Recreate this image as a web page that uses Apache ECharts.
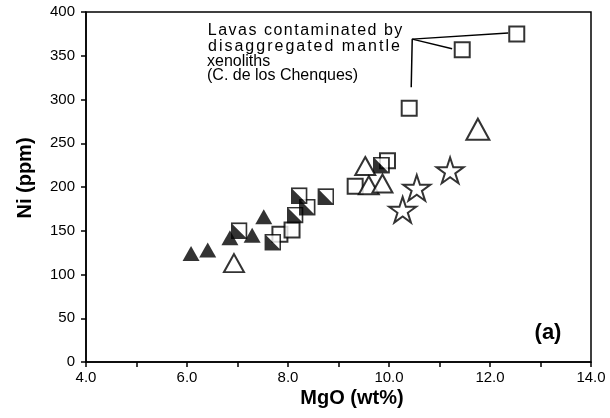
<!DOCTYPE html>
<html><head><meta charset="utf-8">
<script src="https://cdn.jsdelivr.net/npm/echarts@6/dist/echarts.min.js"></script>
<style>html,body{margin:0;padding:0;background:#fff}#c{width:610px;height:418px}</style>
</head><body><div id="c"></div><script>
// ---- data (MgO wt%, Ni ppm) ----
const filledTriangles = [[6.08,124],[6.41,128],[6.85,142],[7.29,145],[7.52,166]];
const openTriangles = [[6.93,113],[9.53,224],[9.60,202],[9.87,204]];
const bigOpenTriangles = [[11.76,266]];
const halfSquares = [[7.03,150],[7.70,137],[8.14,168],[8.38,177],[8.22,190],[8.75,189],[9.85,225]];
const openSquares = [[7.84,146],[8.08,151],[9.33,201],[9.97,230]];
const contaminatedSquares = [[10.40,290],[11.45,357],[12.53,375]];
const stars = [[10.27,174],[10.55,199],[11.21,219]];
const leaderA = [[10.44,314],[10.46,369],[12.36,376]];
const leaderB = [[10.46,369],[11.25,358]];
const xTicks = [4,14,1];
const yTicks = [0,400,50];
const noteLines = ['Lavas contaminated by','disaggregated mantle','xenoliths','(C. de los Chenques)'];

const FONT = '"Liberation Sans", Arial, sans-serif';
const halfSvg = "<svg xmlns='http://www.w3.org/2000/svg' width='18' height='18'><rect x='1' y='1' width='16' height='16' fill='white' stroke='black' stroke-width='2'/><path d='M1,1 L1,17 L17,17 Z' fill='black'/></svg>";
const halfSymbol = 'image://data:image/svg+xml;utf8,' + encodeURIComponent(halfSvg);
const starPath = 'path://M50,0 L61.23,34.55 L97.55,34.55 L68.16,55.9 L79.39,90.45 L50,69.1 L20.61,90.45 L31.84,55.9 L2.45,34.55 L38.77,34.55 Z';

function spaced(s){ return s.split('').map(c => '{c|' + c + '}').join(''); }

const chart = echarts.init(document.getElementById('c'), null, {renderer:'canvas'});
const openStyle = {color:'#fff', borderColor:'#000', borderWidth:2};
chart.setOption({
  animation:false,
  backgroundColor:'#fff',
  grid:{left:86,right:19,top:12,bottom:56,show:true,borderColor:'#000',borderWidth:1.5,backgroundColor:'transparent'},
  xAxis:{type:'value',min:xTicks[0],max:xTicks[1],interval:xTicks[2],
    axisLine:{lineStyle:{color:'#000',width:1.5}},
    axisTick:{show:true,length:5,inside:false,lineStyle:{color:'#000',width:1.5}},
    splitLine:{show:false},
    axisLabel:{margin:8,color:'#000',fontFamily:FONT,fontSize:15,formatter:v => (v%2===0 ? v.toFixed(1) : '')}},
  yAxis:{type:'value',min:yTicks[0],max:yTicks[1],interval:yTicks[2],
    axisLine:{show:true,lineStyle:{color:'#000',width:1.5}},
    axisTick:{show:true,length:5,lineStyle:{color:'#000',width:1.5}},
    splitLine:{show:false},
    axisLabel:{margin:11,color:'#000',fontFamily:FONT,fontSize:15}},
  graphic:[
    {type:'text',x:25,y:178,rotation:Math.PI/2,style:{text:'Ni (ppm)',font:'bold 20px '+FONT,fill:'#000',align:'center',verticalAlign:'middle'}},
    {type:'text',x:352,y:398,style:{text:'MgO (wt%)',font:'bold 20px '+FONT,fill:'#000',align:'center',verticalAlign:'middle'}},
    {type:'text',x:548,y:333,style:{text:'(a)',font:'bold 22px '+FONT,fill:'#000',align:'center',verticalAlign:'middle'}},
    {type:'text',x:207,y:23,style:{text:spaced(noteLines[0]),rich:{c:{fontSize:16,fontFamily:FONT,fill:'#000',padding:[0,0.75]}},verticalAlign:'top'}},
    {type:'text',x:207,y:39,style:{text:spaced(noteLines[1]),rich:{c:{fontSize:16,fontFamily:FONT,fill:'#000',padding:[0,1]}},verticalAlign:'top'}},
    {type:'text',x:207,y:54,style:{text:noteLines[2],font:'16px '+FONT,fill:'#000',verticalAlign:'top'}},
    {type:'text',x:207,y:68,style:{text:noteLines[3],font:'16px '+FONT,fill:'#000',verticalAlign:'top'}}
  ],
  series:[
    {type:'line',data:leaderA,symbol:'none',silent:true,lineStyle:{color:'#000',width:1.5},z:1},
    {type:'line',data:leaderB,symbol:'none',silent:true,lineStyle:{color:'#000',width:1.5},z:1},
    {type:'scatter',data:filledTriangles,symbol:'triangle',symbolSize:[17,15],itemStyle:{color:'#000'},z:3},
    {type:'scatter',data:openSquares,symbol:'rect',symbolSize:15,itemStyle:openStyle,z:3},
    {type:'scatter',data:contaminatedSquares,symbol:'rect',symbolSize:15,itemStyle:openStyle,z:3},
    {type:'scatter',data:halfSquares,symbol:halfSymbol,symbolSize:17,z:3},
    {type:'scatter',data:openTriangles,symbol:'triangle',symbolSize:[20,18],itemStyle:openStyle,z:3},
    {type:'scatter',data:bigOpenTriangles,symbol:'triangle',symbolSize:[23,21],itemStyle:openStyle,z:3},
    {type:'scatter',data:stars,symbol:starPath,symbolKeepAspect:true,symbolSize:27,itemStyle:openStyle,z:3}
  ]
});
</script></body></html>
